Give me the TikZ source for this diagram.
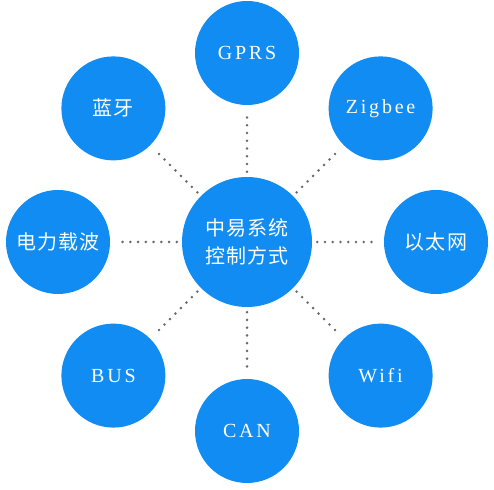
\documentclass[tikz,border=0pt]{standalone}
\usepackage{fontspec}
\setmainfont{Liberation Serif}
\newfontfamily\cjkfont[LetterSpace=6]{Noto Sans CJK SC}
\newfontfamily\latinfont[LetterSpace=14]{Liberation Serif}
\usetikzlibrary{positioning}

\definecolor{nodeblue}{RGB}{16,140,242}
\definecolor{dotgray}{RGB}{105,105,105}

\begin{document}
\begin{tikzpicture}[x=1pt, y=1pt, node distance=189pt, on grid]
  \useasboundingbox (0,0) rectangle (494,489);

  % Define styles for the circles and the dotted links
  \tikzstyle{mainnode} = [circle, fill=nodeblue, minimum size=130pt, inner sep=0pt, text=white, align=center, font=\cjkfont\fontsize{20}{28}\selectfont]
  \tikzstyle{subnode} = [circle, fill=nodeblue, minimum size=104pt, inner sep=0pt, text=white, font=\cjkfont\fontsize{20}{24}\selectfont]
  \tikzstyle{subnodeen} = [subnode, font=\latinfont\fontsize{20}{24}\selectfont]
  \tikzstyle{link} = [dotgray, line width=2.9pt, line cap=round, dash pattern=on 0pt off 7.75pt, shorten <=5pt, shorten >=5pt]

  \node (hub) [mainnode] at (247,247) {中易系统\\控制方式};
  \node (gprs) [subnodeen, above=of hub] {GPRS};
  \node (zigbee) [subnodeen, above right=133.6pt and 133.6pt of hub] {Zigbee};
  \node (ethernet) [subnode, right=of hub] {以太网};
  \node (wifi) [subnodeen, below right=133.6pt and 133.6pt of hub] {Wifi};
  \node (can) [subnodeen, below=of hub] {CAN};
  \node (bus) [subnodeen, below left=133.6pt and 133.6pt of hub] {BUS};
  \node (plc) [subnode, left=of hub] {电力载波};
  \node (bluetooth) [subnode, above left=133.6pt and 133.6pt of hub] {蓝牙};

  \draw[link] (hub) -- (gprs);
  \draw[link] (hub) -- (zigbee);
  \draw[link] (hub) -- (ethernet);
  \draw[link] (hub) -- (wifi);
  \draw[link] (hub) -- (can);
  \draw[link] (hub) -- (bus);
  \draw[link] (hub) -- (plc);
  \draw[link] (hub) -- (bluetooth);

\end{tikzpicture}
\end{document}
